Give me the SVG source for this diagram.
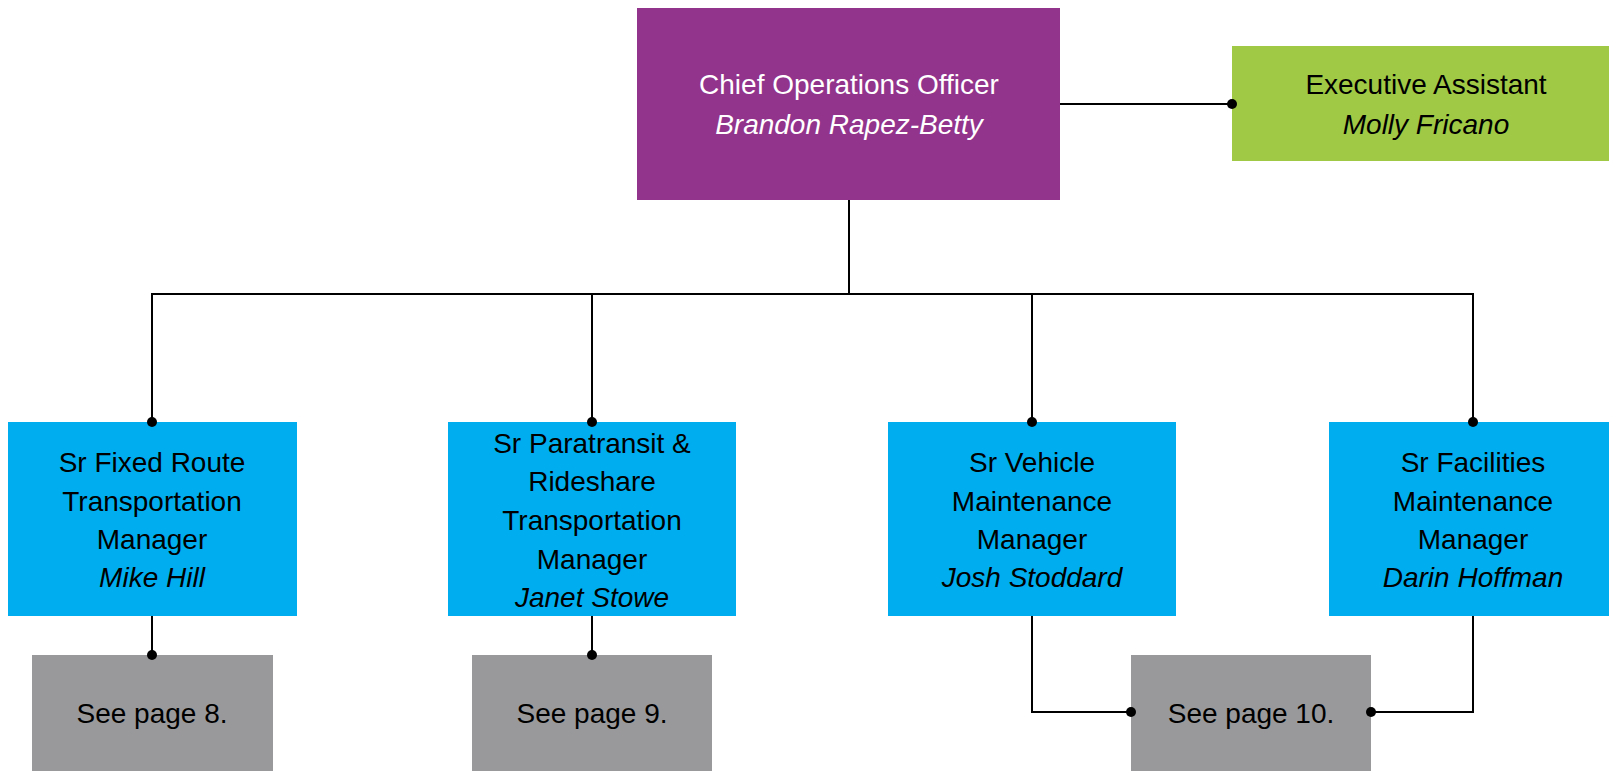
<svg xmlns="http://www.w3.org/2000/svg" width="1609" height="771" viewBox="0 0 1609 771">
<defs>
<style>
text{font-family:"Liberation Sans",Arial,sans-serif;font-size:28px;text-anchor:middle;fill:#000}
.i{font-style:italic}
.w{fill:#fff}
.purple{fill:#92338C}
.green{fill:#A0CA45}
.blue{fill:#00AEEF}
.gray{fill:#99999B}
.c{fill:none;stroke:#000;stroke-width:2}
.d{fill:#000}
</style>
</defs>
<rect width="1609" height="771" fill="#fff"/>
<g id="coo">
<rect class="purple" x="637" y="8" width="423" height="192"/>
<text class="w" x="849" y="94">Chief Operations Officer</text>
<text class="w i" x="849" y="134">Brandon Rapez-Betty</text>
</g>
<g id="ea">
<rect class="green" x="1232" y="46" width="377" height="115"/>
<text x="1426" y="94">Executive Assistant</text>
<text class="i" x="1426" y="134">Molly Fricano</text>
</g>
<g id="fixed">
<rect class="blue" x="8" y="422" width="289" height="194"/>
<text x="152" y="472">Sr Fixed Route</text>
<text x="152" y="511">Transportation</text>
<text x="152" y="549">Manager</text>
<text class="i" x="152" y="587">Mike Hill</text>
</g>
<g id="para">
<rect class="blue" x="448" y="422" width="288" height="194"/>
<text x="592" y="453">Sr Paratransit &amp;</text>
<text x="592" y="491">Rideshare</text>
<text x="592" y="530">Transportation</text>
<text x="592" y="569">Manager</text>
<text class="i" x="592" y="607">Janet Stowe</text>
</g>
<g id="vehicle">
<rect class="blue" x="888" y="422" width="288" height="194"/>
<text x="1032" y="472">Sr Vehicle</text>
<text x="1032" y="511">Maintenance</text>
<text x="1032" y="549">Manager</text>
<text class="i" x="1032" y="587">Josh Stoddard</text>
</g>
<g id="facilities">
<rect class="blue" x="1329" y="422" width="290" height="194"/>
<text x="1473" y="472">Sr Facilities</text>
<text x="1473" y="511">Maintenance</text>
<text x="1473" y="549">Manager</text>
<text class="i" x="1473" y="587">Darin Hoffman</text>
</g>
<g id="page8">
<rect class="gray" x="32" y="655" width="241" height="116"/>
<text x="152" y="723">See page 8.</text>
</g>
<g id="page9">
<rect class="gray" x="472" y="655" width="240" height="116"/>
<text x="592" y="723">See page 9.</text>
</g>
<g id="page10">
<rect class="gray" x="1131" y="655" width="240" height="116"/>
<text x="1251" y="723">See page 10.</text>
</g>
<g id="connectors">
<path class="c" d="M1060 104H1232"/>
<path class="c" d="M849 200V294"/>
<path class="c" d="M152 422V294H1473V422"/>
<path class="c" d="M592 294V422"/>
<path class="c" d="M1032 294V422"/>
<path class="c" d="M152 616V655"/>
<path class="c" d="M592 616V655"/>
<path class="c" d="M1032 616V712H1131"/>
<path class="c" d="M1473 616V712H1371"/>
<circle class="d" cx="1232" cy="104" r="5"/>
<circle class="d" cx="152" cy="422" r="5"/>
<circle class="d" cx="592" cy="422" r="5"/>
<circle class="d" cx="1032" cy="422" r="5"/>
<circle class="d" cx="1473" cy="422" r="5"/>
<circle class="d" cx="152" cy="655" r="5"/>
<circle class="d" cx="592" cy="655" r="5"/>
<circle class="d" cx="1131" cy="712" r="5"/>
<circle class="d" cx="1371" cy="712" r="5"/>
</g>
</svg>
